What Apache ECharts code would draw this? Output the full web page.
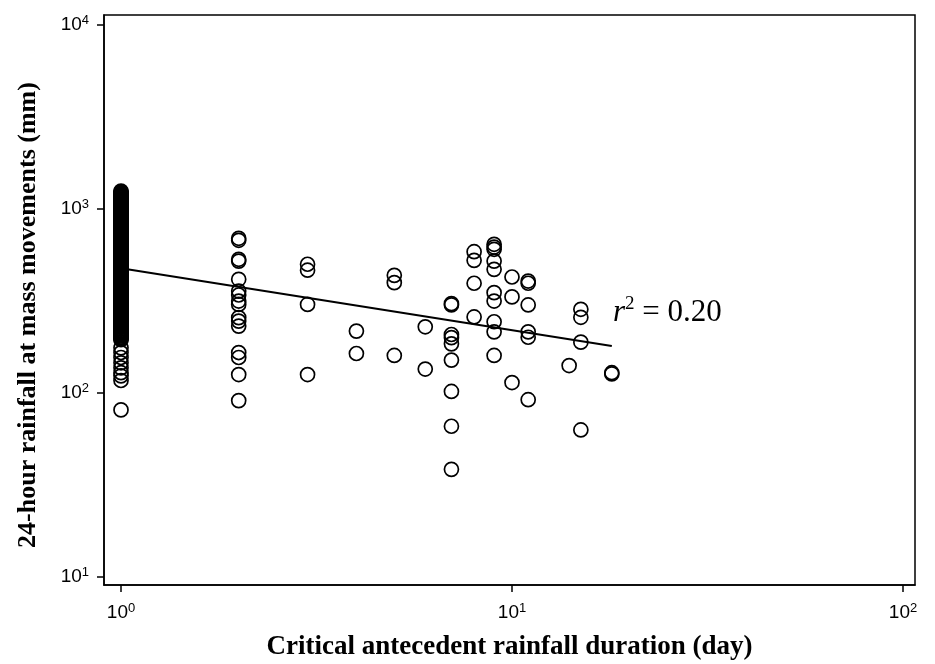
<!DOCTYPE html>
<html>
<head>
<meta charset="utf-8">
<script src="https://cdn.jsdelivr.net/npm/echarts@6/dist/echarts.min.js"></script>
<style>html,body{margin:0;padding:0;background:#fff}#c{width:935px;height:664px}</style>
</head>
<body>
<div id="c"></div>
<script>
// 24-hour rainfall (mm) for each critical antecedent rainfall duration (day)
const rain_d1 = [1250,1236,1222,1210,1198,1185,1172,1161,1150,1137,1125,1112,1100,1089,1078,1066,1055,1043,1032,1021,1010,1000,990,979,968,958,948,938,928,918,908,898,889,879,870,861,852,843,834,825,816,807,799,790,782,773,765,757,749,741,733,725,718,710,703,695,688,680,673,666,659,652,645,638,631,624,618,611,605,598,592,586,580,573,567,561,555,549,543,537,532,526,520,514,509,504,499,493,488,483,478,473,468,463,458,453,448,443,439,434,430,425,421,416,412,407,403,399,395,390,386,382,378,374,370,366,362,358,355,351,347,343,340,336,333,329,326,322,319,315,312,308,305,302,299,296,293,290,287,284,281,278,275,272,269,266,263,260,258,255,252,249,247,244,242,239,237,234,232,229,227,224,222,219,217,215,213,210,208,206,204,201,199,197,195,176,166,156,146,137,129,124,117,81];
const rain_d2 = [693,676,533,521,415,358,341,316,303,257,246,231,166,156,126,91];
const rain_d3 = [501,465,303,126];
const rain_d4 = [217,164];
const rain_d5 = [436,398,160];
const rain_d6 = [229,135];
const rain_d7 = [306,301,208,200,185,151,102,66,38.5];
const rain_d8 = [586,526,395,259];
const rain_d9 = [643,621,604,521,470,351,316,244,215,160];
const rain_d10 = [427,333,114];
const rain_d11 = [406,395,301,215,201,92];
const rain_d14 = [141];
const rain_d15 = [285,258,189,63];
const rain_d18 = [127,129];
const groups = [[1,rain_d1],[2,rain_d2],[3,rain_d3],[4,rain_d4],[5,rain_d5],[6,rain_d6],[7,rain_d7],[8,rain_d8],[9,rain_d9],[10,rain_d10],[11,rain_d11],[14,rain_d14],[15,rain_d15],[18,rain_d18]];
// regression line end points (day, mm)
const fitX = [1, 18];
const fitY = [477, 180];
// axis ticks (decades)
const xTicks = [0, 1, 2];
const yTicks = [1, 2, 3, 4];

const L = Math.log10;
const pts = [];
groups.forEach(g => g[1].forEach(v => pts.push([L(g[0]), L(v)])));
const fit = fitX.map((x, i) => [L(x), L(fitY[i])]);

const lab = {
  b: {fontFamily: 'Liberation Sans', fontSize: 19, color: '#000', lineHeight: 22},
  s: {fontFamily: 'Liberation Sans', fontSize: 13, color: '#000', verticalAlign: 'top', lineHeight: 16}
};
const fmt = v => '{b|10}{s|' + Math.round(v) + '}';

const chart = echarts.init(document.getElementById('c'), null, {renderer: 'canvas'});
chart.setOption({
  animation: false,
  backgroundColor: '#fff',
  grid: {left: 104, right: 20, top: 15, bottom: 79, outerBoundsMode: 'none', containLabel: false, show: true, borderColor: '#000', borderWidth: 1.5, backgroundColor: 'transparent'},
  xAxis: {
    type: 'value', min: -0.0435, max: 2.0307,
    name: 'Critical antecedent rainfall duration (day)', nameLocation: 'middle', nameGap: 49,
    nameTextStyle: {fontFamily: 'Liberation Serif', fontWeight: 'bold', fontSize: 27, color: '#000'},
    axisLine: {show: true, onZero: false, lineStyle: {color: '#000', width: 1.5}},
    axisTick: {show: true, inside: false, length: 7, lineStyle: {color: '#000', width: 1.5}, customValues: xTicks},
    axisLabel: {customValues: xTicks, formatter: fmt, rich: lab, margin: 17},
    splitLine: {show: false}
  },
  yAxis: {
    type: 'value', min: 0.957, max: 4.054,
    name: '24-hour rainfall at mass movements (mm)', nameLocation: 'middle', nameGap: 63,
    nameTextStyle: {fontFamily: 'Liberation Serif', fontWeight: 'bold', fontSize: 26, color: '#000', padding: [0, 30, 0, 0]},
    axisLine: {show: true, onZero: false, lineStyle: {color: '#000', width: 1.5}},
    axisTick: {show: true, inside: false, length: 7, lineStyle: {color: '#000', width: 1.5}, customValues: yTicks},
    axisLabel: {customValues: yTicks, formatter: fmt, rich: lab, margin: 15},
    splitLine: {show: false}
  },
  graphic: [{
    type: 'text', left: 613, top: 295,
    style: {
      text: '{i|r}{s|2}{n| = 0.20}',
      rich: {
        i: {fontFamily: 'Liberation Serif', fontStyle: 'italic', fontSize: 31, color: '#000', lineHeight: 36},
        s: {fontFamily: 'Liberation Serif', fontSize: 19, color: '#000', verticalAlign: 'top', lineHeight: 24},
        n: {fontFamily: 'Liberation Serif', fontSize: 31, color: '#000', lineHeight: 36}
      }
    }
  }],
  series: [
    {
      type: 'scatter', data: pts, symbol: 'circle', symbolSize: 14,
      itemStyle: {color: 'rgba(0,0,0,0)', borderColor: '#000', borderWidth: 1.7, opacity: 1},
      emphasis: {disabled: true}
    },
    {
      type: 'line', data: fit, symbol: 'none', z: 3,
      lineStyle: {color: '#000', width: 2}
    }
  ]
});
</script>
</body>
</html>
